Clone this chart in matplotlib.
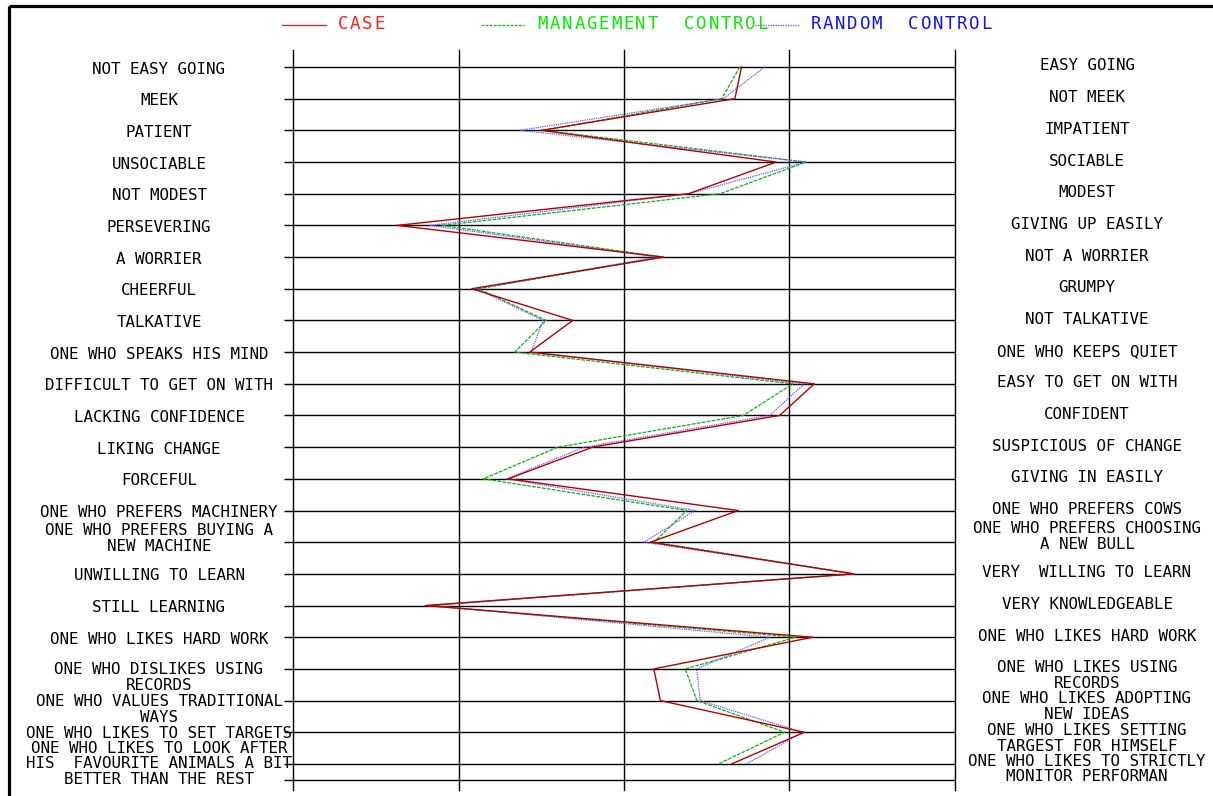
import matplotlib
matplotlib.use("Agg")
import matplotlib.pyplot as plt

plt.rcParams['font.family'] = 'DejaVu Sans Mono'

# ---------------------------------------------------------------------------
# data: scores on a 1..5 scale, one per pair of adjectives (top to bottom)
# ---------------------------------------------------------------------------
left_labels = [
    "NOT EASY GOING", "MEEK", "PATIENT", "UNSOCIABLE", "NOT MODEST",
    "PERSEVERING", "A WORRIER", "CHEERFUL", "TALKATIVE",
    "ONE WHO SPEAKS HIS MIND", "DIFFICULT TO GET ON WITH",
    "LACKING CONFIDENCE", "LIKING CHANGE", "FORCEFUL",
    "ONE WHO PREFERS MACHINERY", "ONE WHO PREFERS BUYING A\nNEW MACHINE",
    "UNWILLING TO LEARN", "STILL LEARNING", "ONE WHO LIKES HARD WORK",
    "ONE WHO DISLIKES USING\nRECORDS", "ONE WHO VALUES TRADITIONAL\nWAYS",
    "ONE WHO LIKES TO SET TARGETS",
    "ONE WHO LIKES TO LOOK AFTER\nHIS  FAVOURITE ANIMALS A BIT\nBETTER THAN THE REST",
]
right_labels = [
    "EASY GOING", "NOT MEEK", "IMPATIENT", "SOCIABLE", "MODEST",
    "GIVING UP EASILY", "NOT A WORRIER", "GRUMPY", "NOT TALKATIVE",
    "ONE WHO KEEPS QUIET", "EASY TO GET ON WITH", "CONFIDENT",
    "SUSPICIOUS OF CHANGE", "GIVING IN EASILY", "ONE WHO PREFERS COWS",
    "ONE WHO PREFERS CHOOSING\nA NEW BULL", "VERY  WILLING TO LEARN",
    "VERY KNOWLEDGEABLE", "ONE WHO LIKES HARD WORK",
    "ONE WHO LIKES USING\nRECORDS", "ONE WHO LIKES ADOPTING\nNEW IDEAS",
    "ONE WHO LIKES SETTING\nTARGEST FOR HIMSELF",
    "ONE WHO LIKES TO STRICTLY\nMONITOR PERFORMAN",
]
case = [3.71, 3.67, 2.50, 3.92, 3.39, 1.63, 3.24, 2.08, 2.69, 2.43, 4.15, 3.94,
        2.81, 2.30, 3.69, 3.16, 4.39, 1.80, 4.14, 3.18, 3.22, 4.09, 3.65]
management = [3.70, 3.59, 2.51, 4.10, 3.58, 1.90, 3.23, 2.12, 2.53, 2.34, 4.02, 3.72,
              2.60, 2.15, 3.38, 3.18, 4.39, 1.81, 4.04, 3.37, 3.44, 3.97, 3.57]
random_ctrl = [3.85, 3.60, 2.37, 4.10, 3.39, 1.83, 3.20, 2.11, 2.51, 2.44, 4.09, 3.88,
               2.76, 2.29, 3.43, 3.12, 4.39, 1.84, 3.88, 3.44, 3.46, 4.08, 3.74]
scale_ticks = [1, 2, 3, 4, 5]
series_names = ['CASE', 'MANAGEMENT  CONTROL', 'RANDOM  CONTROL']

# ---------------------------------------------------------------------------
W, H = 1213, 796
fig = plt.figure(figsize=(W / 100, H / 100), dpi=100)

# background axes in pixel coordinates (frame, legend, labels)
bg = fig.add_axes([0, 0, 1, 1])
bg.set_xlim(0, W)
bg.set_ylim(H, 0)
bg.axis('off')

# frame (left and top border)
bg.plot([9, 9], [796, 6], color='black', lw=2.3, solid_capstyle='butt')
bg.plot([9, 1213], [6, 6], color='black', lw=2.3, solid_capstyle='butt')

# main profile axes
row_px = 31.68
y_top, y_bot = 50, 790
ax = fig.add_axes([293 / W, 1 - y_bot / H, 662 / W, (y_bot - y_top) / H])
n = len(left_labels)
rows = list(range(n))
ax.set_xlim(1, 5)
ax.set_ylim((y_bot - 67) / row_px, (y_top - 67) / row_px)
ax.axis('off')

# grid: verticals at scale points, horizontals at every item
for v in scale_ticks:
    ax.axvline(v, color='black', lw=1.0, zorder=1, clip_on=False)
x_start = 1 - 9 / 165.5
ax.hlines(rows + [n - 0.5], x_start, 5, color='black', lw=1.0, clip_on=False, zorder=1)

ax.plot(case, rows, color='#b80000', lw=1.0, zorder=4)
ax.plot(management, rows, color='#10b010', lw=0.9, ls=(0, (3, 1)), zorder=3)
ax.plot(random_ctrl, rows, color='#5a5aff', lw=0.9, ls=(0, (1, 0.8)), zorder=3)


def row_to_px(i):
    disp = ax.transData.transform((1, i))
    return bg.transData.inverted().transform(disp)[1]


# labels (monospace gives the even pitch of the plotter font)
lab_size = 11.4
left_off = {15: -4, 19: 9, 20: 9, 21: 1, 22: 0}
right_off = {15: -6, 19: 7, 20: 6, 21: 6, 22: 5}
for i, (lt, rt) in enumerate(zip(left_labels, right_labels)):
    yp = row_to_px(i)
    bg.text(159, yp + left_off.get(i, 2), lt, ha='center', va='center',
            fontsize=lab_size, linespacing=1.07, multialignment='center')
    bg.text(1087, yp + right_off.get(i, -1), rt, ha='center', va='center',
            fontsize=lab_size, linespacing=1.07, multialignment='center')

# legend across the top, glyphs tracked one by one
legend_lines = [(282, 326), (481, 524), (755, 800)]
legend_text_x = [338, 538, 811]
line_colors = ['#cc3333', '#22bb22', '#6666ff']
text_colors = ['#ff2020', '#00ee00', '#1010ff']
line_styles = ['-', (0, (2, 1)), (0, (1, 0.8))]
leg_pitch = 12.2
for (x0, x1), xt, name, lc, tc, ls in zip(legend_lines, legend_text_x, series_names,
                                           line_colors, text_colors, line_styles):
    bg.plot([x0, x1], [25, 25], color=lc, lw=1.0, ls=ls)
    for j, ch in enumerate(name):
        if ch != ' ':
            bg.text(xt + 5 + j * leg_pitch, 24, ch, ha='center', va='center',
                    fontsize=12.5, color=tc)

fig.savefig('out.png', dpi=100, facecolor='white')
